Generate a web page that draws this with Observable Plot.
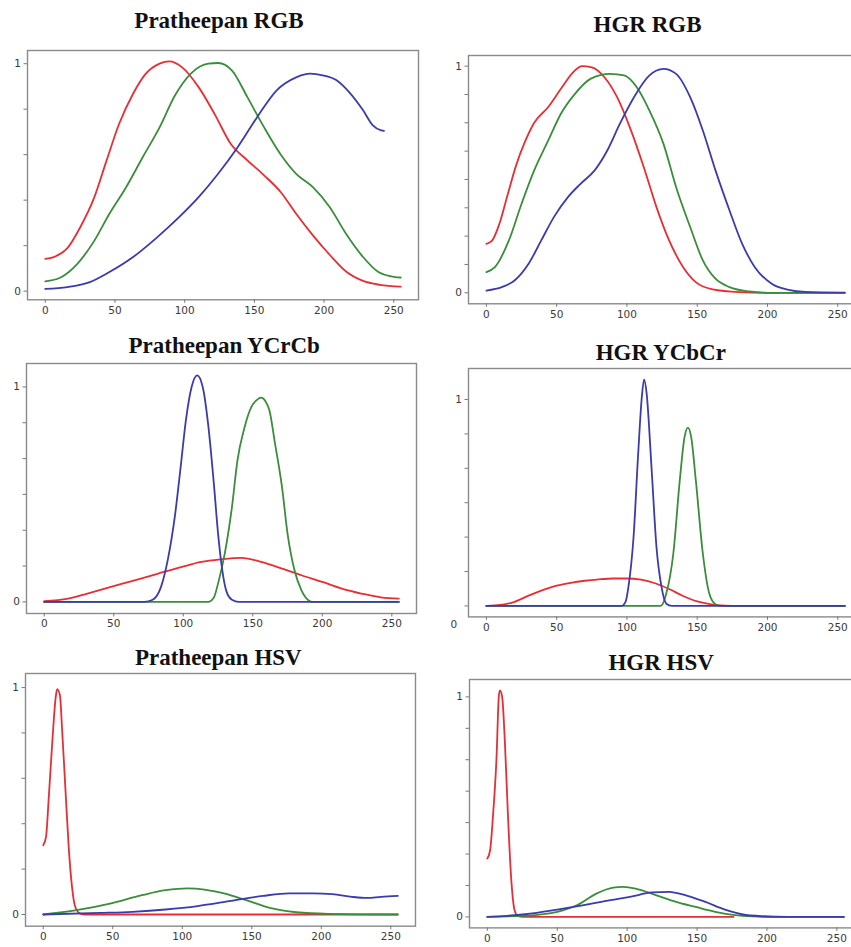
<!DOCTYPE html>
<html><head><meta charset="utf-8">
<script src="https://cdn.jsdelivr.net/npm/d3@7"></script>
<script src="https://cdn.jsdelivr.net/npm/@observablehq/plot@0.6"></script>
<style>
html,body{margin:0;padding:0;background:#fff;overflow:hidden;}
#root{position:relative;width:851px;height:947px;overflow:hidden;background:#fff;}
.title{position:absolute;font-family:"Liberation Serif","Times New Roman",serif;font-weight:bold;font-size:23px;color:#111;white-space:nowrap;transform:translateX(-50%);line-height:1;}
.panel{position:absolute;}
</style></head>
<body><div id="root"></div>
<script>
// ---------- data ----------
const titles = ["Pratheepan RGB","HGR RGB","Pratheepan YCrCb","HGR YCbCr","Pratheepan HSV","HGR HSV"];
const channels = ["R","G","B"];
const xTickValues = [0,50,100,150,200,250];
const yTickLabels = {0:"0",1:"1"};
const yTickDivisions = [5,8,6,6,5,7];

// Pratheepan RGB
const pratRGB_R = [[0,0.142],[6,0.15],[16,0.19],[25,0.28],[35,0.41],[44,0.575],[53,0.736],[63,0.868],[72,0.955],[82,1.0],[89,1.01],[98,0.985],[110,0.897],[122,0.773],[133,0.648],[145,0.575],[157,0.509],[169,0.435],[180,0.34],[192,0.245],[204,0.16],[216,0.085],[228,0.045],[240,0.028],[255,0.02]];
const pratRGB_G = [[0,0.043],[11,0.06],[23,0.12],[35,0.22],[46,0.34],[58,0.457],[70,0.59],[82,0.72],[93,0.86],[105,0.96],[117,1.0],[124,1.003],[134,0.97],[145,0.853],[157,0.72],[169,0.6],[180,0.516],[192,0.457],[204,0.37],[216,0.25],[228,0.15],[239,0.084],[251,0.062],[255,0.06]];
const pratRGB_B = [[0,0.01],[16,0.018],[32,0.04],[46,0.084],[63,0.15],[79,0.23],[96,0.325],[110,0.413],[124,0.516],[138,0.633],[152,0.765],[166,0.883],[180,0.94],[190,0.956],[199,0.949],[209,0.927],[218,0.875],[228,0.795],[235,0.729],[241,0.707],[243,0.705]];

// HGR RGB
const hgrRGB_R = [[0,0.216],[4,0.23],[9,0.3],[15,0.43],[21,0.56],[27,0.66],[34,0.75],[44,0.82],[53,0.9],[62,0.975],[68,1.0],[75,0.995],[84,0.951],[93,0.863],[102,0.731],[112,0.554],[121,0.378],[130,0.231],[140,0.113],[149,0.047],[161,0.015],[180,0.003],[200,0],[255,0]];
const hgrRGB_G = [[0,0.091],[6,0.113],[16,0.231],[25,0.393],[34,0.54],[44,0.672],[53,0.79],[63,0.878],[74,0.944],[88,0.966],[98,0.959],[107,0.907],[116,0.804],[126,0.657],[135,0.466],[145,0.29],[154,0.143],[163,0.062],[173,0.025],[187,0.006],[203,0],[255,0]];
const hgrRGB_B = [[0,0.01],[11,0.025],[20,0.054],[30,0.128],[39,0.231],[48,0.334],[58,0.422],[67,0.481],[77,0.54],[86,0.628],[95,0.746],[105,0.863],[116,0.959],[126,0.988],[135,0.966],[145,0.863],[154,0.716],[163,0.54],[173,0.363],[182,0.216],[191,0.113],[203,0.04],[215,0.013],[227,0.004],[255,0.001]];

// Pratheepan YCrCb
const pratYCC_R = [[0,0.003],[17,0.015],[31,0.039],[48,0.07],[65,0.1],[82,0.132],[99,0.163],[113,0.186],[127,0.198],[142,0.205],[156,0.186],[171,0.155],[185,0.124],[200,0.093],[214,0.062],[228,0.039],[243,0.02],[255,0.015]];
const pratYCC_G = [[0,0],[118,0],[122,0.02],[125,0.085],[130,0.23],[135,0.44],[139,0.66],[144,0.81],[149,0.907],[153,0.94],[156,0.95],[159,0.935],[162,0.89],[166,0.736],[171,0.535],[175,0.318],[180,0.147],[185,0.054],[190,0.008],[193,0],[255,0]];
const pratYCC_B = [[0,0],[72,0],[78,0.01],[84,0.07],[89,0.2],[94,0.4],[98,0.62],[102,0.85],[106,1.0],[110,1.054],[114,1.0],[118,0.82],[122,0.55],[125,0.32],[128,0.15],[131,0.05],[135,0.01],[140,0],[255,0]];

// HGR YCbCr
const hgrYCC_R = [[0,0],[10,0.005],[20,0.02],[30,0.05],[40,0.077],[50,0.098],[60,0.112],[70,0.122],[80,0.129],[90,0.133],[100,0.133],[110,0.127],[120,0.11],[130,0.082],[140,0.048],[150,0.022],[160,0.008],[170,0.002],[180,0],[255,0]];
const hgrYCC_G = [[0,0],[124,0],[128,0.06],[133,0.254],[137.6,0.609],[141,0.819],[143.4,0.864],[145.7,0.819],[149,0.609],[154,0.254],[158.6,0.06],[163,0.008],[167,0],[255,0]];
const hgrYCC_B = [[0,0],[96,0],[99,0.02],[101,0.09],[104.7,0.334],[108,0.738],[110.6,1.013],[112.2,1.097],[114,1.03],[117.6,0.657],[121,0.286],[124.6,0.092],[128,0.011],[132,0],[255,0]];

// Pratheepan HSV
const pratHSV_R = [[0,0.305],[2,0.342],[4,0.518],[6.6,0.768],[9,0.959],[10,0.993],[12,0.966],[13.6,0.812],[16,0.548],[18.3,0.298],[20.7,0.122],[23,0.034],[26.6,0.004],[30,0],[255,0]];
const pratHSV_G = [[0,0],[24,0.019],[48,0.048],[71,0.085],[88,0.107],[104,0.115],[116,0.11],[130,0.093],[146,0.063],[163,0.029],[182,0.01],[205,0.003],[255,0]];
const pratHSV_B = [[0,0],[41,0.007],[64,0.012],[88,0.022],[111,0.037],[135,0.06],[158,0.082],[177,0.093],[194,0.093],[208,0.09],[222,0.078],[233,0.073],[243,0.078],[255,0.082]];

// HGR HSV
const hgrHSV_R = [[0,0.265],[2,0.303],[4,0.455],[6.6,0.727],[8.2,1.0],[9,1.03],[10.6,1.0],[12.5,0.803],[14.8,0.455],[17,0.182],[19.5,0.03],[22,0.003],[25,0],[176,0]];
const hgrHSV_G = [[0,0],[27,0.005],[50,0.023],[64,0.053],[78,0.106],[90,0.133],[97,0.136],[106,0.129],[121,0.098],[135,0.068],[149,0.045],[163,0.023],[177,0.008],[191,0.002],[203,0],[255,0]];
const hgrHSV_B = [[0,0],[27,0.012],[50,0.033],[69,0.053],[88,0.076],[102,0.091],[118,0.111],[130,0.114],[142,0.098],[156,0.068],[170,0.033],[182,0.012],[196,0.003],[215,0],[255,0]];

const seriesByPanel = [
  [pratRGB_R, pratRGB_G, pratRGB_B],
  [hgrRGB_R, hgrRGB_G, hgrRGB_B],
  [pratYCC_R, pratYCC_G, pratYCC_B],
  [hgrYCC_R, hgrYCC_G, hgrYCC_B],
  [pratHSV_R, pratHSV_G, pratHSV_B],
  [hgrHSV_R, hgrHSV_G, hgrHSV_B]
];

// ---------- layout (pixels) ----------
const layout = [
  {frame:[26.7,50,417.7,299.3], yDomain:[-0.038,1.058], title:[219,28.3]},
  {frame:[468,55,862.2,303.3], yDomain:[-0.0485,1.047], title:[647.5,32.3]},
  {frame:[26,363.3,416,613.3], yDomain:[-0.054,1.109], title:[224.2,353.3]},
  {frame:[467.7,368.3,861.9,616.7], yDomain:[-0.053,1.150], title:[660.8,360.7], zeroBelow:true},
  {frame:[25,673.3,415,926], yDomain:[-0.0515,1.062], title:[218.3,665]},
  {frame:[469.3,679.3,861.5,927.7], yDomain:[-0.05,1.079], title:[661.2,670.7]}
];

const colors = ["#e62e35","#3a8d3a","#3b3bab"];
const root = document.getElementById("root");

layout.forEach((L, i) => {
  const [fl, ft, fr, fb] = L.frame;
  const mL = 32, mR = 4, mT = 4, mB = 26;
  const rows = seriesByPanel[i].flatMap((pts, k) => pts.map(([x, y]) => ({ch: channels[k], x, y})));
  const n = yTickDivisions[i];
  const yTicks = d3.range(n + 1).map(j => j / n);
  const marks = [
    Plot.line(rows, {x: "x", y: "y", z: "ch", stroke: "ch", strokeWidth: 1.8, curve: "monotone-x"}),
    Plot.frame({stroke: "#8a8a8a", strokeWidth: 1.4}),
    Plot.axisX({ticks: xTickValues, tickSize: 3.5, tickPadding: 3, stroke: "#777", fill: "#3a3a3a", label: null}),
    Plot.axisY({ticks: yTicks, tickSize: 3.5, tickPadding: 3, stroke: "#777", fill: "#3a3a3a", label: null,
      tickFormat: d => (L.zeroBelow && d === 0) ? "" : (yTickLabels[d] ?? "")})
  ];
  if (L.zeroBelow) {
    marks.push(Plot.axisY({ticks: [0], tickSize: 0, tickPadding: 11.4, dy: 18.6, fill: "#3a3a3a", label: null,
      tickFormat: () => yTickLabels[0]}));
  }
  const chart = Plot.plot({
    width: (fr - fl) + mL + mR,
    height: (fb - ft) + mT + mB,
    marginLeft: mL, marginRight: mR, marginTop: mT, marginBottom: mB,
    x: {domain: [-12.75, 267.75], label: null},
    y: {domain: L.yDomain, label: null},
    color: {domain: channels, range: colors},
    style: {fontFamily: "'DejaVu Sans', sans-serif", fontSize: "10.5px", background: "transparent", overflow: "visible"},
    marks
  });
  chart.classList.add("panel");
  chart.style.left = (fl - mL) + "px";
  chart.style.top = (ft - mT) + "px";
  root.appendChild(chart);

  const t = document.createElement("div");
  t.className = "title";
  t.textContent = titles[i];
  t.style.left = L.title[0] + "px";
  t.style.top = (L.title[1] - 19.3) + "px";
  root.appendChild(t);
});
</script>
</body></html>
